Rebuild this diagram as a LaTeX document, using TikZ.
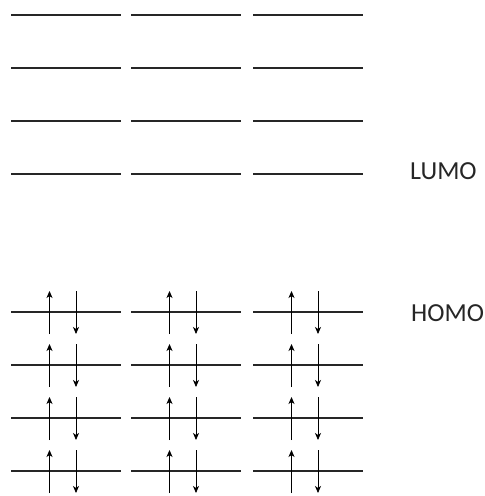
\documentclass[tikz,border=0pt]{standalone}
\usepackage{fontspec}
\setsansfont{Carlito}
\usetikzlibrary{arrows.meta}

\tikzset{
  level/.style={line width=1.8pt,black!85},
  spin/.style={line width=0.8pt,-{Stealth[length=7pt,width=6pt,inset=2pt]}},
  orblabel/.style={font=\sffamily\fontsize{26}{30}\selectfont,anchor=base west,inner sep=0pt,black!85}
}

\begin{document}
\begin{tikzpicture}[x=1pt,y=-1pt]
\useasboundingbox (0,0) rectangle (485,496);

% empty levels
\foreach \y [count=\r] in {15,68,121,174}{
  \foreach \x [count=\c] in {11,131,253}{
    \coordinate (u\r\c a) at (\x,\y);
    \coordinate (u\r\c b) at (\x+110,\y);
    \draw[level] (u\r\c a) -- (u\r\c b);
  }
}

% filled levels
\foreach \y [count=\r] in {312,365,418,471}{
  \foreach \x [count=\c] in {11,131,253}{
    \coordinate (o\r\c a) at (\x,\y);
    \coordinate (o\r\c b) at (\x+110,\y);
    \draw[level] (o\r\c a) -- (o\r\c b);
    \coordinate (up\r\c s) at (\x+38.5,\y+22);
    \coordinate (up\r\c e) at (\x+38.5,\y-21);
    \coordinate (dn\r\c s) at (\x+65,\y-21);
    \coordinate (dn\r\c e) at (\x+65,\y+22);
    \draw[spin] (up\r\c s) -- (up\r\c e);
    \draw[spin] (dn\r\c s) -- (dn\r\c e);
  }
}

\node[orblabel] (lumo) at (410,179) {LUMO};
\node[orblabel] (homo) at (411,321) {HOMO};
\end{tikzpicture}
\end{document}
